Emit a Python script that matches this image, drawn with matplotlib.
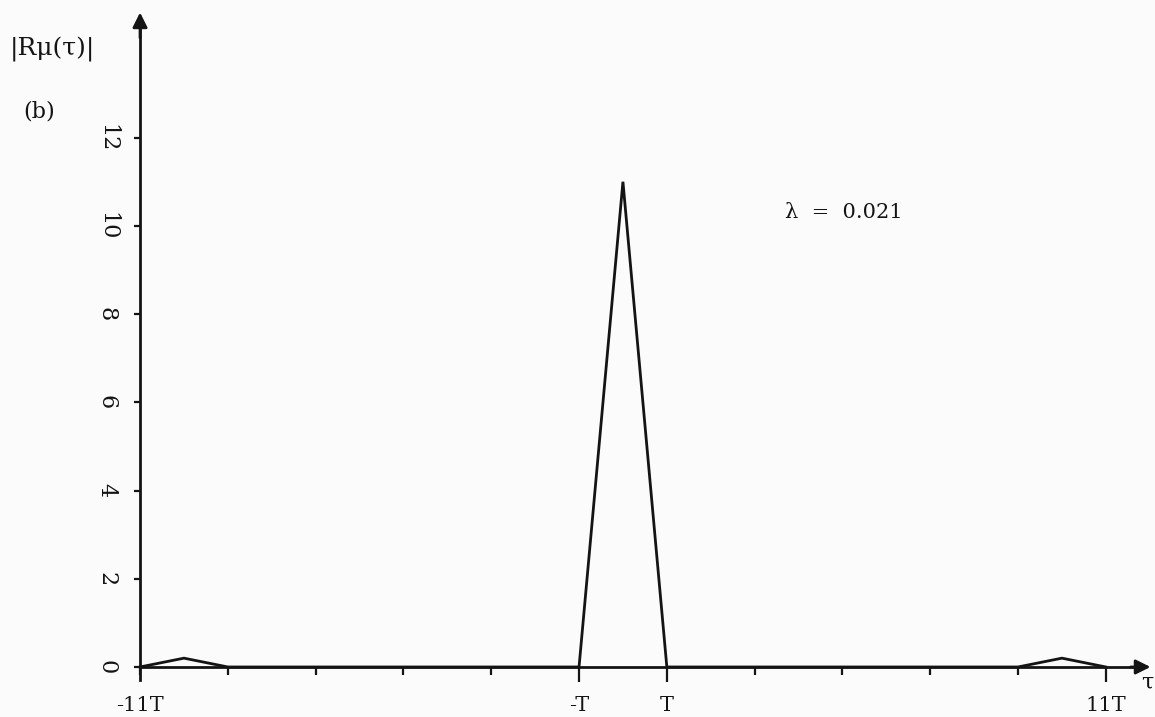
import matplotlib
matplotlib.use("Agg")
import matplotlib.pyplot as plt

# data: |R(tau)| at integer multiples of T
tau = [-11, -10, -9, -8, -7, -6, -5, -4, -3, -2, -1, 0, 1, 2, 3, 4, 5, 6, 7, 8, 9, 10, 11]
r_abs = [0, 0.2, 0, 0, 0, 0, 0, 0, 0, 0, 0, 11.0, 0, 0, 0, 0, 0, 0, 0, 0, 0, 0.2, 0]
x_ticks = [-11, -9, -7, -5, -3, -1, 1, 3, 5, 7, 9, 11]
x_labels = {-11: "-11T", -1: "-T", 1: "T", 11: "11T"}
y_ticks = [0, 2, 4, 6, 8, 10, 12]
lam_text = "λ  =  0.021"

serif = ["DejaVu Serif"]
ink = "#141414"
fig = plt.figure(figsize=(11.55, 7.17), dpi=100, facecolor="#fbfbfb")
ax = fig.add_axes([0, 0, 1, 1])
ax.set_facecolor("#fbfbfb")
ax.set_xlim(-14.19, 12.12)
ax.set_ylim(-1.134, 15.12)

for s in ["top", "right"]:
    ax.spines[s].set_visible(False)
ax.spines["left"].set_position(("data", -11))
ax.spines["bottom"].set_position(("data", 0))
ax.spines["left"].set_bounds(-0.3, 14.5)
ax.spines["bottom"].set_bounds(-11, 11.8)
for s in ["left", "bottom"]:
    ax.spines[s].set_linewidth(2.0)
    ax.spines[s].set_color(ink)

ax.set_xticks(x_ticks)
ax.set_xticklabels([x_labels.get(t, "") for t in x_ticks], fontsize=15, family=serif)
ax.tick_params(axis="x", direction="out", length=6, width=1.6, pad=15, colors=ink)
for t, tk in zip(x_ticks, ax.xaxis.get_major_ticks()):
    if t in (-1, 1, 11):
        tk.tick1line.set_markersize(11)

ax.set_yticks(y_ticks)
ax.set_yticklabels([str(v) for v in y_ticks], fontsize=16, family=serif, rotation=-90, va="center")
ax.tick_params(axis="y", direction="out", length=4, width=1.6, pad=12, colors=ink)

# arrowheads
ax.annotate("", xy=(12.08, 0), xytext=(11.5, 0),
            arrowprops=dict(arrowstyle="-|>", color=ink, lw=2, mutation_scale=22))
ax.annotate("", xy=(-11, 14.9), xytext=(-11, 14.2),
            arrowprops=dict(arrowstyle="-|>", color=ink, lw=2, mutation_scale=22))

# data line
ax.plot(tau, r_abs, color=ink, lw=2.0, solid_joinstyle="miter", clip_on=False)

# texts
ax.text(-13.97, 14.0, "|Rμ(τ)|", fontsize=18, family=serif, va="center", ha="left", color=ink)
ax.text(-13.65, 12.6, "(b)", fontsize=16, family=serif, va="center", ha="left", color=ink)
ax.text(11.95, -0.12, "τ", fontsize=16, family=serif, va="top", ha="center", color=ink)
ax.text(3.7, 10.3, lam_text, fontsize=15, family=serif, va="center", ha="left", color=ink)

fig.savefig("out.png", dpi=100, facecolor=fig.get_facecolor())
